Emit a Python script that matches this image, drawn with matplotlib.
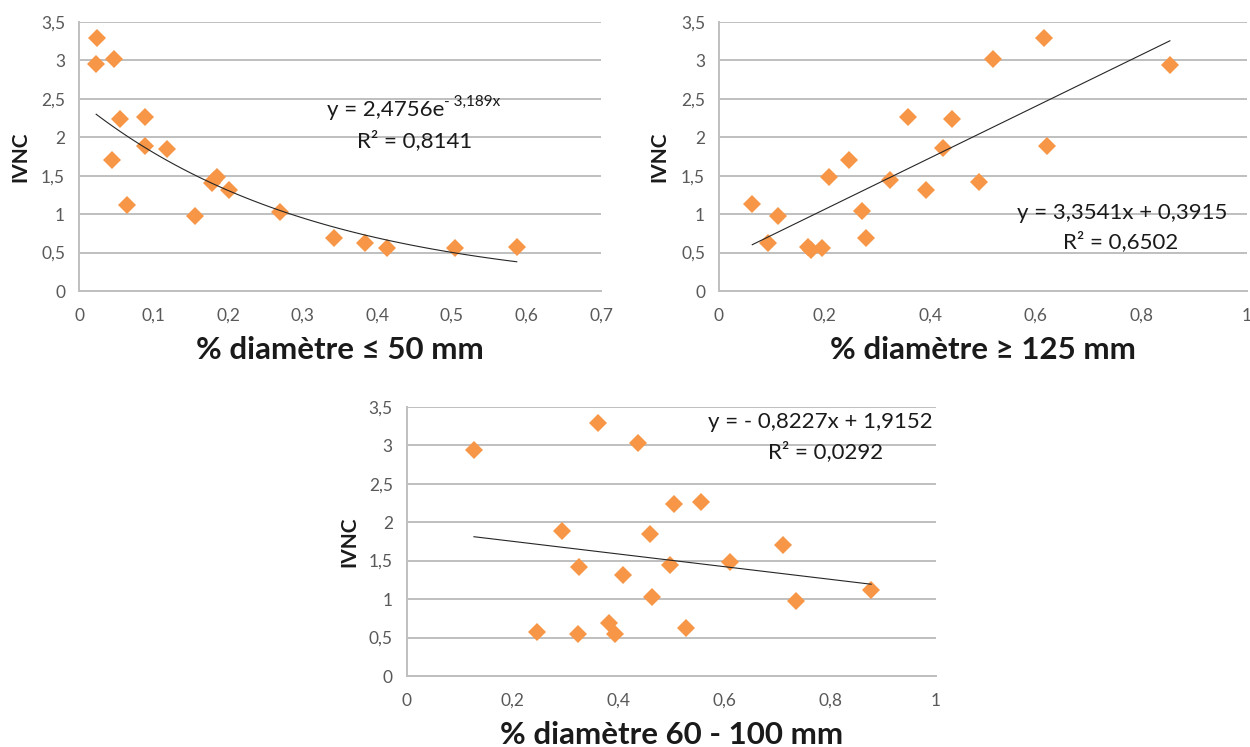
import matplotlib
matplotlib.use("Agg")
import matplotlib.pyplot as plt
import numpy as np
from matplotlib.ticker import FuncFormatter, MultipleLocator

plt.rcParams['font.family'] = ['Lato', 'DejaVu Sans']

# IVNC values read per panel
x_small = [0.024, 0.023, 0.047, 0.055, 0.088, 0.044, 0.088, 0.118, 0.065, 0.155,
           0.179, 0.185, 0.181, 0.2015, 0.27, 0.342, 0.383, 0.413, 0.504, 0.587]
y_small = [3.29, 2.95, 3.02, 2.24, 2.26, 1.70, 1.89, 1.85, 1.12, 0.975,
           1.41, 1.48, 1.44, 1.32, 1.03, 0.69, 0.62, 0.555, 0.555, 0.576]

x_large = [0.063, 0.111, 0.093, 0.169, 0.174, 0.195, 0.208, 0.246, 0.270, 0.279,
           0.324, 0.358, 0.392, 0.4235, 0.442, 0.493, 0.518, 0.616, 0.622, 0.854]
y_large = [1.13, 0.975, 0.62, 0.576, 0.54, 0.555, 1.486, 1.70, 1.036, 0.69,
           1.44, 2.26, 1.31, 1.855, 2.24, 1.42, 3.02, 3.29, 1.89, 2.94]

x_mid = [0.127, 0.362, 0.437, 0.293, 0.4605, 0.5057, 0.556, 0.711, 0.6115, 0.326,
         0.497, 0.409, 0.464, 0.735, 0.8775, 0.246, 0.324, 0.383, 0.393, 0.527]
y_mid = [2.94, 3.29, 3.03, 1.89, 1.84, 2.24, 2.26, 1.70, 1.486, 1.42,
         1.44, 1.31, 1.03, 0.975, 1.12, 0.576, 0.546, 0.69, 0.546, 0.62]

xlabels = ["% diamètre ≤ 50 mm", "% diamètre ≥ 125 mm", "% diamètre 60 - 100 mm"]
xmax = [0.7, 1.0, 1.0]

ORANGE = '#F79646'
GRID = '#BFBFBF'
TXT = '#595959'


def comma(v, pos):
    s = '{:g}'.format(round(v, 2))
    return s.replace('.', ',')


def setup_axes(ax, xm, xlabel, yl_x):
    ax.set_xlim(0, xm)
    ax.set_ylim(0, 3.5)
    ax.yaxis.set_major_locator(MultipleLocator(0.5))
    ax.xaxis.set_major_locator(MultipleLocator(0.1 if xm < 1 else 0.2))
    ax.xaxis.set_major_formatter(FuncFormatter(comma))
    ax.yaxis.set_major_formatter(FuncFormatter(comma))
    ax.grid(axis='y', color=GRID, linewidth=1.4)
    ax.set_axisbelow(True)
    for s in ['top', 'right']:
        ax.spines[s].set_visible(False)
    for s in ['left', 'bottom']:
        ax.spines[s].set_color(GRID)
        ax.spines[s].set_linewidth(1.4)
    ax.tick_params(length=0, labelsize=12.5, labelcolor=TXT)
    ax.tick_params(axis='x', pad=12)
    ax.tick_params(axis='y', pad=10)
    ax.text(0.5, -0.219, xlabel, transform=ax.transAxes, ha='center', va='center',
            fontsize=22.5, fontweight='bold', color='#1a1a1a')
    ax.text(yl_x, 0.5, 'IVNC', transform=ax.transAxes, ha='center', va='center',
            rotation=90, fontsize=15, fontweight='bold', color='#1a1a1a')


fig = plt.figure(figsize=(12.5, 7.47), dpi=100)
ax1 = fig.add_axes([0.0632, 0.6104, 0.4176, 0.3601])
ax2 = fig.add_axes([0.5752, 0.6104, 0.4224, 0.3601])
ax3 = fig.add_axes([0.3254, 0.0950, 0.4234, 0.3605])

# panel 1 : exponential fit
setup_axes(ax1, xmax[0], xlabels[0], -0.113)
ax1.plot(x_small, y_small, 'D', color=ORANGE, markersize=9, markeredgewidth=0)
xs = np.linspace(min(x_small), max(x_small), 100)
ax1.plot(xs, 2.4756 * np.exp(-3.189 * xs), color='#262626', linewidth=0.8)
t = ax1.text(0.475, 0.673, 'y = 2,4756e', transform=ax1.transAxes, ha='left', va='center',
             fontsize=16, color='#1a1a1a')
ax1.annotate('- 3,189x', xy=(1, 0.55), xycoords=t, ha='left', va='bottom',
             fontsize=11, color='#1a1a1a')
ax1.text(0.533, 0.558, 'R² = 0,8141', transform=ax1.transAxes, ha='left', va='center',
         fontsize=16, color='#1a1a1a')

# panel 2 : linear fit
setup_axes(ax2, xmax[1], xlabels[1], -0.112)
ax2.plot(x_large, y_large, 'D', color=ORANGE, markersize=9, markeredgewidth=0)
xs = np.array([min(x_large), max(x_large)])
ax2.plot(xs, 3.3541 * xs + 0.3915, color='#262626', linewidth=0.8)
ax2.text(0.564, 0.29, 'y = 3,3541x + 0,3915', transform=ax2.transAxes, ha='left', va='center',
         fontsize=16, color='#1a1a1a')
ax2.text(0.652, 0.182, 'R² = 0,6502', transform=ax2.transAxes, ha='left', va='center',
         fontsize=16, color='#1a1a1a')

# panel 3 : linear fit
setup_axes(ax3, xmax[2], xlabels[2], -0.108)
ax3.plot(x_mid, y_mid, 'D', color=ORANGE, markersize=9, markeredgewidth=0)
xs = np.array([min(x_mid), max(x_mid)])
ax3.plot(xs, -0.8227 * xs + 1.9152, color='#262626', linewidth=0.8)
ax3.text(0.57, 0.944, 'y = - 0,8227x + 1,9152', transform=ax3.transAxes, ha='left', va='center',
         fontsize=16, color='#1a1a1a')
ax3.text(0.683, 0.833, 'R² = 0,0292', transform=ax3.transAxes, ha='left', va='center',
         fontsize=16, color='#1a1a1a')

for ax in (ax1, ax2, ax3):
    for lab in ax.get_xticklabels():
        lab.set_clip_on(False)

fig.savefig('out.png', dpi=100)
